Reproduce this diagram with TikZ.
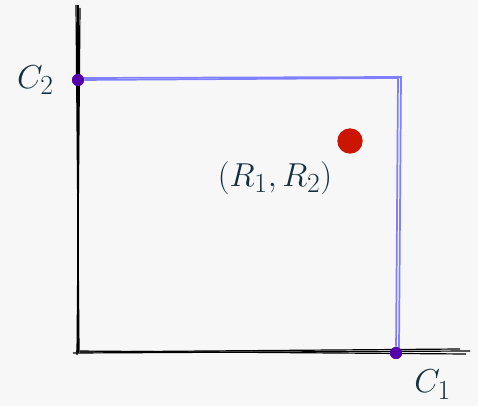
\documentclass[tikz,border=0pt]{standalone}
\usepackage{amsmath}
\usepackage{tikz}
\usetikzlibrary{positioning, calc}
\definecolor{ink}{HTML}{143040}
\definecolor{paper}{HTML}{F7F7F7}
\definecolor{edgeblue}{HTML}{8080FF}
\definecolor{dotpurple}{HTML}{5500A8}
\definecolor{dotred}{HTML}{CC1500}
\begin{document}
\begin{tikzpicture}[x=0.75pt, y=-0.75pt,
  axis/.style={black, line width=0.9pt},
  edge/.style={edgeblue, line width=1.3pt},
  corner/.style={circle, fill=dotpurple, inner sep=0pt, minimum size=9pt},
  point/.style={circle, fill=dotred, inner sep=0pt, minimum size=19pt},
  lbl/.style={text=ink, font=\fontsize{29}{34}\selectfont}]
  % --- fond ---
  \fill[paper] (0,0) rectangle (478,406);
  \useasboundingbox (0,0) rectangle (478,406);
  % --- axes (trait a main levee) ---
  \coordinate (ytop) at (78,5);
  \coordinate (orig) at (78,353);
  \coordinate (xend) at (470,351);
  \draw[axis] (ytop) -- (orig);
  \draw[axis] ($(ytop)+(2,3)$) -- ($(orig)+(-1,2)$);
  \draw[axis] ($(ytop)+(-2,0)$) -- ($(orig)+(1,-3)$);
  \draw[axis] ($(orig)+(-5,0)$) -- (xend);
  \draw[axis] ($(orig)+(-2,-2)$) -- ($(xend)+(-4,3)$);
  \draw[axis] ($(orig)+(2,-1)$) -- ($(xend)+(-10,-2)$);
  % --- coins du rectangle ---
  \node[corner] (c2) at (78,80) {};
  \node[corner] (c1) at (396,353) {};
  \coordinate (tr) at (398,78);
  % --- rectangle bleu ---
  \draw[edge] (c2) -- (tr);
  \draw[edge] ($(c2)+(2,-2)$) -- ($(tr)+(4,-1)$);
  \draw[edge] ($(tr)+(0,-2)$) -- (c1);
  \draw[edge] ($(tr)+(3,0)$) -- ($(c1)+(3,-3)$);
  \node[corner] at (c2) {};
  \node[corner] at (c1) {};
  % --- point (R1,R2) ---
  \node[point] (r) at (350,141) {};
  % --- etiquettes ---
  \node[lbl, left=10pt of c2] (lc2) {$C_2$};
  \node[lbl, below right=6pt and 7pt of c1] (lc1) {$C_1$};
  \node[lbl, below left=5pt and 3pt of r] (lr) {$(R_1,R_2)$};
\end{tikzpicture}
\end{document}
